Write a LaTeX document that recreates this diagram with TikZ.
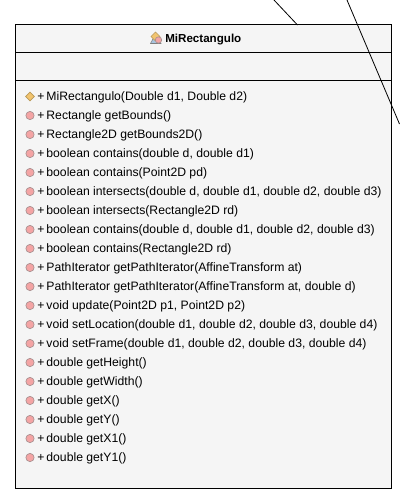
\documentclass[tikz,border=0pt]{standalone}
\usepackage{fontspec}
\setmainfont{Liberation Sans}
\usetikzlibrary{shapes.geometric}
\definecolor{boxfill}{HTML}{F5F5F5}
\definecolor{opfill}{HTML}{F4A4A4}
\definecolor{opedge}{HTML}{A89090}
\definecolor{ctorfill}{HTML}{F2C46E}
\definecolor{ctoredge}{HTML}{B89858}
\definecolor{iconblue}{HTML}{A8C4E0}
\tikzset{
  x=0.75pt,y=-0.75pt,
  classbox/.style={draw=black,fill=boxfill,line width=0.75pt},
  divider/.style={draw=black,line width=0.75pt},
  wire/.style={draw=black,line width=0.6pt},
  member/.style={anchor=west,inner sep=0pt,font=\fontsize{9.15pt}{11pt}\selectfont},
  titletext/.style={inner sep=0pt,font=\fontsize{8.7pt}{10pt}\selectfont\bfseries},
  opicon/.style={circle,draw=opedge,fill=opfill,line width=0.5pt,minimum size=6.2pt,inner sep=0pt},
  ctoricon/.style={diamond,draw=ctoredge,fill=ctorfill,line width=0.5pt,minimum size=6.8pt,inner sep=0pt},
}
\begin{document}
\begin{tikzpicture}
\useasboundingbox (0,0) rectangle (400,501);
\fill[white] (0,0) rectangle (400,501);
\coordinate (w1a) at (274,0);
\coordinate (w1b) at (297.5,25);
\coordinate (w2a) at (347,0);
\coordinate (w2b) at (399.5,124);
\draw[classbox] (15.5,24.5) rectangle (391.5,488.5);
\draw[divider] (15.5,52.5) -- (391.5,52.5);
\draw[divider] (15.5,80.5) -- (391.5,80.5);
\draw[wire] (w1a) -- (w1b);
\draw[wire] (w2a) -- (w2b);
% class icon
\fill[iconblue,draw=gray,line width=0.4pt] (150.5,43.5) -- (155,35) -- (161,43.5) -- cycle;
\fill[ctorfill,draw=ctoredge,line width=0.4pt] (155.5,32) -- (160,36.5) -- (155.5,41) -- (151,36.5) -- cycle;
\node[opicon,minimum size=4.8pt] (titleicon) at (158.5,40) {};
\node[titletext,anchor=west] (title) at (165,39.5) {MiRectangulo};
\node[ctoricon] (i0) at (30,96.5) {};
\foreach \n/\yy in {1/115.5,2/134.5,3/153.5,4/172.5,5/191.5,6/210.5,7/229.5,8/248.5,9/267.5,10/286.5,11/305.5,12/324.5,13/343.5,14/362.5,15/381.5,16/400.5,17/419.5,18/438.5,19/457.5}
  \node[opicon] (i\n) at (30,\yy) {};
\node[member] (m0) at (37,97) {+\,MiRectangulo(Double d1, Double d2)};
\node[member] (m1) at (37,116) {+\,Rectangle getBounds()};
\node[member] (m2) at (37,135) {+\,Rectangle2D getBounds2D()};
\node[member] (m3) at (37,154) {+\,boolean contains(double d, double d1)};
\node[member] (m4) at (37,173) {+\,boolean contains(Point2D pd)};
\node[member] (m5) at (37,192) {+\,boolean intersects(double d, double d1, double d2, double d3)};
\node[member] (m6) at (37,211) {+\,boolean intersects(Rectangle2D rd)};
\node[member] (m7) at (37,230) {+\,boolean contains(double d, double d1, double d2, double d3)};
\node[member] (m8) at (37,249) {+\,boolean contains(Rectangle2D rd)};
\node[member] (m9) at (37,268) {+\,PathIterator getPathIterator(AffineTransform at)};
\node[member] (m10) at (37,287) {+\,PathIterator getPathIterator(AffineTransform at, double d)};
\node[member] (m11) at (37,306) {+\,void update(Point2D p1, Point2D p2)};
\node[member] (m12) at (37,325) {+\,void setLocation(double d1, double d2, double d3, double d4)};
\node[member] (m13) at (37,344) {+\,void setFrame(double d1, double d2, double d3, double d4)};
\node[member] (m14) at (37,363) {+\,double getHeight()};
\node[member] (m15) at (37,382) {+\,double getWidth()};
\node[member] (m16) at (37,401) {+\,double getX()};
\node[member] (m17) at (37,420) {+\,double getY()};
\node[member] (m18) at (37,439) {+\,double getX1()};
\node[member] (m19) at (37,458) {+\,double getY1()};
\end{tikzpicture}
\end{document}
